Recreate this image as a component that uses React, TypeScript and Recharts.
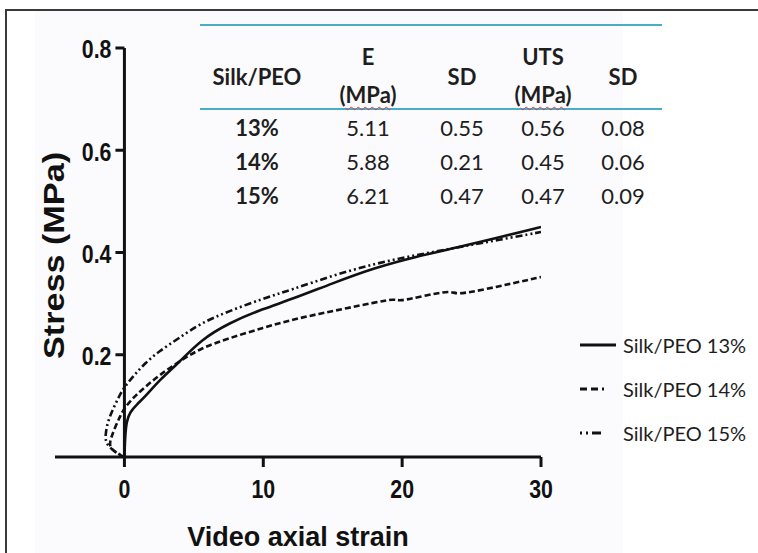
import { LineChart, Line, XAxis, YAxis, ReferenceLine, Label } from "recharts";

// stress-strain curves (strain %, stress MPa)
const strain13 = [0, 0.05, 0.15, 0.4, 0.9, 1.5, 2.5, 3.9, 5.5, 7.5, 10, 12, 15, 18, 21, 24, 27, 30];
const stress13 = [0, 0.04, 0.07, 0.088, 0.103, 0.118, 0.15, 0.184, 0.229, 0.262, 0.29, 0.308, 0.34, 0.37, 0.392, 0.41, 0.43, 0.45];

const strain14 = [0, -0.6, -1.1, -1.0, -0.65, -0.3, 0, 0.7, 1.5, 2.5, 3.9, 5.5, 7.5, 10, 12, 14, 16, 18, 19.5, 19.7, 21.5, 23.6, 23.8, 26, 28, 30];
const stress14 = [0, 0.008, 0.02, 0.035, 0.06, 0.08, 0.096, 0.118, 0.137, 0.16, 0.186, 0.213, 0.232, 0.253, 0.268, 0.28, 0.291, 0.302, 0.31, 0.304, 0.315, 0.326, 0.317, 0.328, 0.34, 0.352];

const strain15 = [0, -0.7, -1.3, -1.4, -1.2, -0.8, -0.4, 0, 0.7, 1.5, 2.5, 3.9, 5.5, 7.5, 10, 12, 15, 18, 21, 24, 27, 30];
const stress15 = [0, 0.01, 0.025, 0.04, 0.07, 0.095, 0.118, 0.137, 0.16, 0.184, 0.207, 0.232, 0.262, 0.285, 0.31, 0.327, 0.355, 0.378, 0.395, 0.41, 0.425, 0.44];

const seriesNames = ["Silk/PEO 13%", "Silk/PEO 14%", "Silk/PEO 15%"];

const xTicks = [0, 10, 20, 30];
const yTicks = [0.2, 0.4, 0.6, 0.8];

// inset table
const headTop = ["Silk/PEO", "E", "SD", "UTS", "SD"];
const headBottom = ["", "(MPa)", "", "(MPa)", ""];
const concentrations = ["13%", "14%", "15%"];
const eModulus = ["5.11", "5.88", "6.21"];
const eSD = ["0.55", "0.21", "0.47"];
const uts = ["0.56", "0.45", "0.47"];
const utsSD = ["0.08", "0.06", "0.09"];

const toPoints = (xs: number[], ys: number[]) => xs.map((x, i) => ({ x, y: ys[i] }));
const seriesData = [
  toPoints(strain13, stress13),
  toPoints(strain14, stress14),
  toPoints(strain15, stress15),
];

const dashes = [undefined, "6 3", "2 3 2 3 7 3"];
const legendDashes = [undefined, "7 4 7 4 2 20", "2 4 2 4 9 20"];

const W = 758;
const H = 553;
const X_MIN = -5;
const X_MAX = 30;
const M = { top: 48, right: 217, left: 54, bottom: 0 };
const Y_AXIS_W = 1;
const X_AXIS_H = 96;
const PLOT_LEFT = M.left + Y_AXIS_W;
const PLOT_W = W - PLOT_LEFT - M.right;
const Y_AXIS_X = PLOT_LEFT + (PLOT_W * (0 - X_MIN)) / (X_MAX - X_MIN);

const boldFont = "'Liberation Sans', Arial, sans-serif";
const tableFont = "Lato, 'Open Sans', sans-serif";
const NARROW = 0.82;

const YTick = (props: any) => {
  const { y, payload } = props;
  const tx = Y_AXIS_X - 13;
  return (
    <g>
      <line x1={Y_AXIS_X - 9} x2={Y_AXIS_X} y1={y} y2={y} stroke="#111" strokeWidth={3} />
      <text
        x={0}
        y={0}
        transform={`translate(${tx} ${y + 1}) scale(${NARROW} 1)`}
        textAnchor="end"
        dominantBaseline="central"
        fill="#111"
        fontSize={26}
        fontWeight={700}
        fontFamily={boldFont}
      >
        {payload.value.toFixed(1)}
      </text>
    </g>
  );
};

const XTick = (props: any) => {
  const { x, y, payload } = props;
  return (
    <text
      x={0}
      y={0}
      transform={`translate(${x} ${y}) scale(${NARROW} 1)`}
      textAnchor="middle"
      dy="0.72em"
      fill="#111"
      fontSize={26}
      fontWeight={700}
      fontFamily={boldFont}
    >
      {payload.value}
    </text>
  );
};

const colLeft = [200, 314, 422, 502, 584];
const colWidth = [114, 108, 80, 82, 78];
const rowCenter = [128, 162, 196];

function Cell({ col, cy, text, bold }: { col: number; cy: number; text: string; bold?: boolean }) {
  const mpa = text === "(MPa)";
  return (
    <div
      style={{
        position: "absolute",
        left: colLeft[col],
        width: colWidth[col],
        top: cy - 15,
        height: 30,
        lineHeight: "30px",
        textAlign: "center",
        fontFamily: tableFont,
        fontSize: 22,
        fontWeight: bold ? 700 : 400,
        color: "#1e1e1e",
        whiteSpace: "nowrap",
      }}
    >
      {mpa ? (
        <>
          (
          <span
            style={{
              textDecoration: "underline wavy #e04040",
              textDecorationThickness: "1px",
              textUnderlineOffset: "3px",
            }}
          >
            MPa
          </span>
          )
        </>
      ) : (
        text
      )}
    </div>
  );
}

export default function App() {
  const rows = concentrations.map((c, i) => [c, eModulus[i], eSD[i], uts[i], utsSD[i]]);
  return (
    <div style={{ position: "relative", width: W, height: H, background: "#fff", overflow: "hidden" }}>
      <style>{`html,body{margin:0;overflow:hidden}`}</style>
      {/* faint tint of the pasted figure */}
      <div style={{ position: "absolute", left: 35, top: 11, width: 588, height: H, background: "#fbfafd" }} />
      {/* frame: top and left edges only */}
      <div style={{ position: "absolute", left: 5, top: 9, width: W - 5, height: 2, background: "#3a3a3a" }} />
      <div style={{ position: "absolute", left: 5, top: 9, width: 2, height: H - 9, background: "#3a3a3a" }} />
      <LineChart width={W} height={H} margin={M} style={{ position: "absolute", left: 0, top: 0 }}>
        <XAxis
          type="number"
          dataKey="x"
          domain={[X_MIN, X_MAX]}
          ticks={xTicks}
          interval={0}
          allowDataOverflow
          height={X_AXIS_H}
          tickSize={10}
          tickMargin={12}
          axisLine={{ stroke: "#111", strokeWidth: 3 }}
          tickLine={{ stroke: "#111", strokeWidth: 3 }}
          tick={<XTick />}
        >
          <Label
            value="Video axial strain"
            position="insideBottom"
            offset={7}
            fill="#111"
            fontSize={27}
            fontWeight={700}
            fontFamily={boldFont}
          />
        </XAxis>
        <YAxis
          type="number"
          domain={[0, 0.8]}
          ticks={yTicks}
          interval={0}
          width={Y_AXIS_W}
          axisLine={false}
          tickLine={false}
          tick={<YTick />}
        >
          <Label
            content={({ viewBox }: any) => {
              const cx = viewBox.x;
              const cy = viewBox.y + viewBox.height / 2 + 3;
              return (
                <text
                  x={0}
                  y={0}
                  transform={`translate(${cx} ${cy}) rotate(-90) scale(1.14 1)`}
                  textAnchor="middle"
                  dominantBaseline="central"
                  fill="#111"
                  fontSize={30}
                  fontWeight={700}
                  fontFamily={boldFont}
                >
                  Stress (MPa)
                </text>
              );
            }}
          />
        </YAxis>
        <ReferenceLine x={0} stroke="#111" strokeWidth={3} />
        {seriesData.map((d, i) => (
          <Line
            key={seriesNames[i]}
            data={d}
            dataKey="y"
            name={seriesNames[i]}
            type="basis"
            stroke="#111"
            strokeWidth={2.6}
            strokeDasharray={dashes[i]}
            dot={false}
            isAnimationActive={false}
          />
        ))}
      </LineChart>

      {/* inset table */}
      <div style={{ position: "absolute", left: 200, width: 462, top: 24, height: 2, background: "#4bacc6" }} />
      <div style={{ position: "absolute", left: 200, width: 462, top: 108, height: 2, background: "#4bacc6" }} />
      {headTop.map((t, c) =>
        headBottom[c] ? (
          <div key={"h" + c}>
            <Cell col={c} cy={57} text={t} bold />
            <Cell col={c} cy={95} text={headBottom[c]} bold />
          </div>
        ) : (
          <Cell key={"h" + c} col={c} cy={77} text={t} bold />
        )
      )}
      {rows.map((r, ri) =>
        r.map((t, c) => <Cell key={ri + "-" + c} col={c} cy={rowCenter[ri]} text={t} bold={c === 0} />)
      )}

      {/* legend */}
      {seriesNames.map((n, i) => (
        <div
          key={n}
          style={{ position: "absolute", left: 578, top: 345 + i * 44 - 15, height: 30, display: "flex", alignItems: "center" }}
        >
          <svg width={40} height={6} style={{ marginRight: 5 }}>
            <line x1={2} x2={38} y1={3} y2={3} stroke="#111" strokeWidth={3} strokeDasharray={legendDashes[i]} />
          </svg>
          <span style={{ fontFamily: tableFont, fontSize: 20, color: "#1e1e1e", whiteSpace: "nowrap" }}>{n}</span>
        </div>
      ))}
    </div>
  );
}
